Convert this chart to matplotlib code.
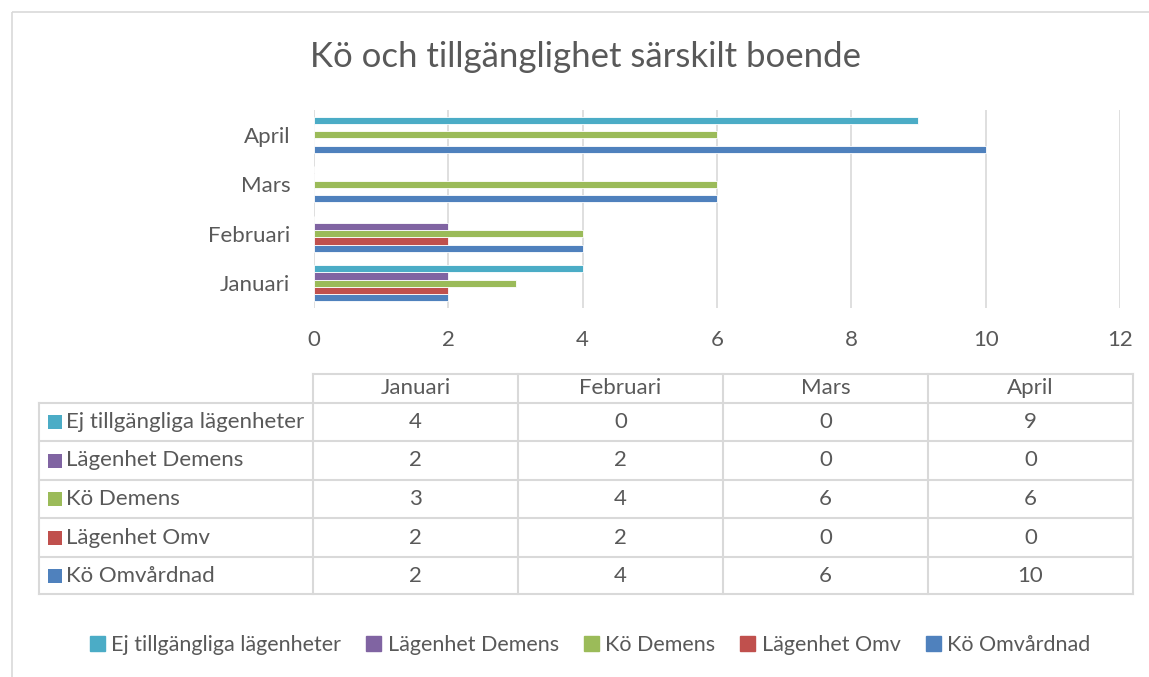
import matplotlib.pyplot as plt
from matplotlib.patches import Rectangle, Patch
import numpy as np

# data
months = ["Januari", "Februari", "Mars", "April"]
series = ["Kö Omvårdnad", "Lägenhet Omv", "Kö Demens", "Lägenhet Demens", "Ej tillgängliga lägenheter"]
ko_omv = [2, 4, 6, 10]
lgh_omv = [2, 2, 0, 0]
ko_dem = [3, 4, 6, 6]
lgh_dem = [2, 2, 0, 0]
ej_tillg = [4, 0, 0, 9]
values = [ko_omv, lgh_omv, ko_dem, lgh_dem, ej_tillg]
colors = ["#4F81BD", "#C0504D", "#9BBB59", "#8064A2", "#4BACC6"]
xticks = [0, 2, 4, 6, 8, 10, 12]

plt.rcParams['font.family'] = ['Lato', 'DejaVu Sans']
txt = "#595959"
grid = "#D9D9D9"
fs = 16

W, H = 1149, 677
fig = plt.figure(figsize=(W / 100, H / 100), dpi=100)

# background axes in pixel coords for frame and table
bg = fig.add_axes([0, 0, 1, 1])
bg.set_xlim(0, W)
bg.set_ylim(H, 0)
bg.axis("off")
bg.add_patch(Rectangle((12, 12), W + 20, H + 20, fill=False, ec=grid, lw=1.2))

fig.text(585 / W, 1 - 57 / H, "Kö och tillgänglighet särskilt boende",
         ha="center", va="center", fontsize=25, color=txt)

# bar chart
x0, x1, ytop, ybot = 314, 1120, 110, 308
ax = fig.add_axes([x0 / W, 1 - ybot / H, (x1 - x0) / W, (ybot - ytop) / H])
bh = 0.146
y = np.arange(len(months))
for i, (name, vals) in enumerate(zip(series, values)):
    ax.barh(y + (i - 2) * bh, vals, height=bh, color=colors[i], ec="white", lw=0.6, zorder=3)
ax.set_xlim(0, 12)
ax.set_ylim(-0.5, 3.5)
ax.set_xticks(xticks)
ax.set_yticks(y)
ax.set_yticklabels(months)
ax.grid(axis="x", color=grid, lw=1.2, zorder=0)
for s in ax.spines.values():
    s.set_visible(False)
ax.tick_params(length=0, labelsize=fs, colors=txt)
ax.tick_params(axis="y", pad=17)
ax.tick_params(axis="x", pad=16)

# data table
cols = [313, 518, 723, 928, 1133]
rows = [374, 403, 441, 480, 518, 557, 594]
tl = dict(color=grid, lw=1.5, zorder=1)
bg.plot([cols[0], cols[-1]], [rows[0], rows[0]], **tl)
for r in rows[1:]:
    bg.plot([39, cols[-1]], [r, r], **tl)
bg.plot([39, 39], [rows[1], rows[-1]], **tl)
for c in cols:
    bg.plot([c, c], [rows[0], rows[-1]], **tl)
for j, m in enumerate(months):
    bg.text((cols[j] + cols[j + 1]) / 2, (rows[0] + rows[1]) / 2, m,
            ha="center", va="center", fontsize=fs, color=txt)
order = list(range(len(series)))[::-1]
for k, i in enumerate(order):
    ym = (rows[k + 1] + rows[k + 2]) / 2
    bg.add_patch(Rectangle((48, ym - 7), 14, 14, color=colors[i], lw=0))
    bg.text(66, ym, series[i], ha="left", va="center", fontsize=fs, color=txt)
    for j, v in enumerate(values[i]):
        bg.text((cols[j] + cols[j + 1]) / 2, ym, str(v),
                ha="center", va="center", fontsize=fs, color=txt)

# legend
handles = [Patch(color=colors[i], label=series[i]) for i in order]
fig.legend(handles=handles, loc="center", bbox_to_anchor=(590 / W, 1 - 645 / H), ncol=5,
           frameon=False, fontsize=15.5, labelcolor=txt, handlelength=0.7, handleheight=0.7,
           handletextpad=0.3, columnspacing=1.16)

fig.savefig("out.png", dpi=100)
